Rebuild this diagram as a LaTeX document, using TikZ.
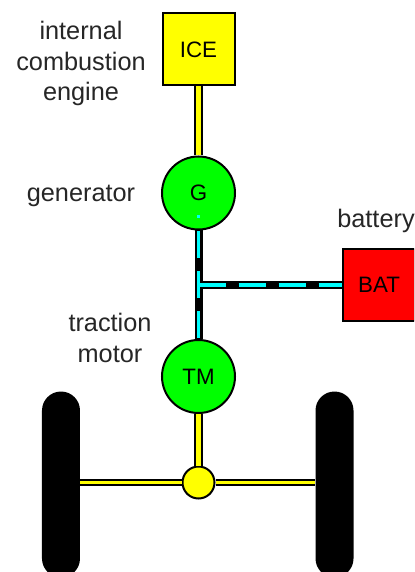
\documentclass[tikz,border=0pt]{standalone}
\usepackage{fontspec}
\setmainfont{Liberation Sans}
\usetikzlibrary{positioning}
\definecolor{shaftYellow}{RGB}{255,255,0}
\definecolor{motorGreen}{RGB}{0,255,0}
\definecolor{batRed}{RGB}{255,0,0}
\definecolor{currentCyan}{RGB}{0,255,255}
\tikzstyle{label} = [text=black!85, align=center, font=\fontsize{14.4}{17.6}\selectfont]
\tikzstyle{unit} = [rectangle, minimum width=1.44cm, minimum height=1.44cm, text centered, line width=0.04cm, draw=black, font=\fontsize{12.7}{15}\selectfont]
\tikzstyle{machine} = [circle, minimum size=1.46cm, inner sep=0pt, text centered, line width=0.04cm, draw=black, fill=motorGreen, font=\fontsize{12.7}{15}\selectfont]
\tikzstyle{diff} = [circle, minimum size=0.64cm, inner sep=0pt, line width=0.04cm, draw=black, fill=shaftYellow]
\tikzstyle{wheel} = [rectangle, rounded corners=0.38cm, minimum width=0.76cm, minimum height=3.72cm, fill=black]
\tikzstyle{shaft} = [line width=0.04cm, draw=black, double=shaftYellow, double distance=0.09cm]
\tikzstyle{axle} = [line width=0.03cm, draw=black, double=shaftYellow, double distance=0.07cm]
\tikzstyle{cable} = [line width=0.16cm, draw=black]
\tikzstyle{current} = [line width=0.07cm, draw=currentCyan, dash pattern=on 0.54cm off 0.26cm]
\begin{document}
\begin{tikzpicture}[node distance=2.87cm]

% Page
	\clip (-3.97,0.99) rectangle (4.31,-10.45);

% Drive train
	\node (ice) [unit, fill=shaftYellow] {ICE};

	\node (gen) [machine, below of=ice] {G};

	\node (tm) [machine, below of=gen, yshift=-0.8cm] {TM};

	\node (dif) [diff, below of=tm, node distance=2.12cm] {};

% Wheels
	\node (leftWheel) [wheel, left of=dif, node distance=2.75cm, yshift=-0.04cm] {};

	\node (rightWheel) [wheel, right of=dif, node distance=2.72cm, yshift=-0.04cm] {};

% Battery
	\node (bat) [unit, fill=batRed, right of=gen, node distance=3.61cm, yshift=-1.84cm] {BAT};

% Labels
	\node (iceLabel) [label, left of=ice, node distance=2.35cm, yshift=-0.28cm] {internal\\combustion\\engine};

	\node (genLabel) [label, left of=gen, node distance=2.35cm, yshift=-0.06cm] {generator};

	\node (tmLabel) [label, left of=tm, node distance=1.77cm, yshift=0.78cm] {traction\\motor};

	\node (batLabel) [label, above of=bat, node distance=1.28cm, xshift=-0.06cm] {battery};

% Free ends on the electric line
	\coordinate (tee) at (gen |- bat);
	\coordinate (tap) at ([yshift=-0.44cm]gen.center);


% Mechanical connections
	\draw [shaft] (ice) -- (gen);
	\draw [shaft] (tm) -- (dif);
	\draw [axle] (leftWheel.east |- dif) -- (dif);
	\draw [axle] (dif) -- (rightWheel.west |- dif);


% Electric connections
	\draw [cable] (gen) -- (tm);
	\draw [cable] (tee) -- (bat);

	\draw [current, dash phase=0.48cm] (tap) -- (tm.north);
	\draw [current] (tee) -- (bat.west);

\end{tikzpicture}
\end{document}
